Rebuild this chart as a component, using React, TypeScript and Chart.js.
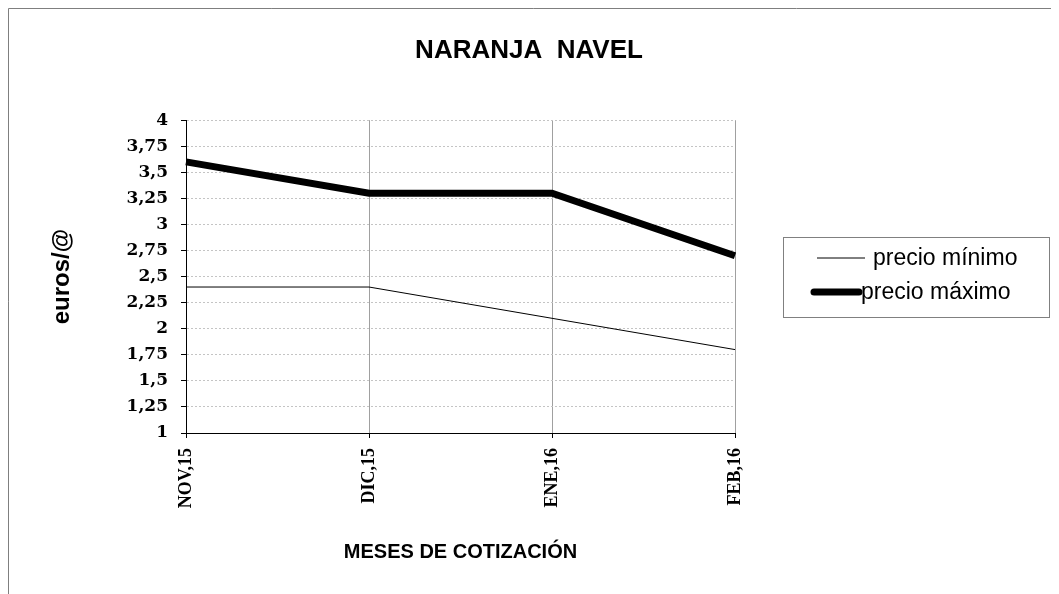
import { useEffect, useRef } from 'react';
import { Chart, registerables } from 'chart.js';

Chart.register(...registerables);

const chartTitle = 'NARANJA  NAVEL';
const xAxisTitle = 'MESES DE COTIZACIÓN';
const yAxisTitle = 'euros/@';
const categories = ['NOV,15', 'DIC,15', 'ENE,16', 'FEB,16'];
const seriesLabels = ['precio mínimo', 'precio máximo'];
const precioMinimo = [2.4, 2.4, 2.1, 1.8];
const precioMaximo = [3.6, 3.3, 3.3, 2.7];
const yTickValues = [1, 1.25, 1.5, 1.75, 2, 2.25, 2.5, 2.75, 3, 3.25, 3.5, 3.75, 4];
const yTickLabels = ['1', '1,25', '1,5', '1,75', '2', '2,25', '2,5', '2,75', '3', '3,25', '3,5', '3,75', '4'];

const frameBorder = {
  id: 'frameBorder',
  beforeDraw(chart: any) {
    const { ctx, width, height } = chart;
    ctx.save();
    ctx.fillStyle = '#ffffff';
    ctx.fillRect(0, 0, width, height);
    ctx.strokeStyle = '#7f7f7f';
    ctx.lineWidth = 1;
    ctx.beginPath();
    ctx.moveTo(0.5, height);
    ctx.lineTo(0.5, 0.5);
    ctx.lineTo(width, 0.5);
    ctx.stroke();
    ctx.restore();
  },
};

const boxLegend = {
  id: 'boxLegend',
  afterDraw(chart: any, _args: any, opts: any) {
    const ctx = chart.ctx;
    ctx.save();
    ctx.strokeStyle = '#808080';
    ctx.lineWidth = 1;
    ctx.strokeRect(opts.x + 0.5, opts.y + 0.5, opts.w, opts.h);
    chart.data.datasets.forEach((ds: any, i: number) => {
      const row = opts.rows[i];
      const cy = opts.y + row.cy;
      ctx.beginPath();
      ctx.lineWidth = ds.borderWidth;
      ctx.strokeStyle = ds.borderColor;
      ctx.lineCap = ds.borderWidth > 2 ? 'round' : 'butt';
      ctx.moveTo(row.x1, cy);
      ctx.lineTo(row.x2, cy);
      ctx.stroke();
      ctx.fillStyle = '#000000';
      ctx.font = '23px "Liberation Sans", Arial, sans-serif';
      ctx.textBaseline = 'middle';
      ctx.textAlign = 'left';
      ctx.fillText(ds.label, row.tx, cy + 1);
    });
    ctx.restore();
  },
};

export default function App() {
  const ref = useRef<HTMLCanvasElement | null>(null);

  useEffect(() => {
    document.body.style.overflow = 'hidden';
    if (!ref.current) return;
    const chart = new Chart(ref.current, {
      type: 'line',
      data: {
        labels: categories,
        datasets: [
          {
            label: seriesLabels[0],
            data: precioMinimo,
            borderColor: '#000000',
            backgroundColor: '#000000',
            borderWidth: 1,
            pointRadius: 0,
            tension: 0,
            fill: false,
          },
          {
            label: seriesLabels[1],
            data: precioMaximo,
            borderColor: '#000000',
            backgroundColor: '#000000',
            borderWidth: 7,
            pointRadius: 0,
            tension: 0,
            fill: false,
          },
        ],
      },
      options: {
        responsive: false,
        animation: false,
        layout: { padding: { left: 0, right: 9, top: 0, bottom: 0 } },
        plugins: {
          legend: { display: false },
          tooltip: { enabled: false },
          title: {
            display: true,
            text: chartTitle,
            color: '#000000',
            font: { family: '"Liberation Sans", Arial, sans-serif', size: 26, weight: 'bold', lineHeight: 1.2 },
            padding: { top: 27, bottom: 54 },
          },
          boxLegend: {
            x: 775,
            y: 229,
            w: 266,
            h: 80,
            rows: [
              { cy: 21, x1: 809, x2: 857, tx: 865 },
              { cy: 55, x1: 806, x2: 851, tx: 853 },
            ],
          },
        } as any,
        scales: {
          x: {
            type: 'category',
            offset: false,
            afterFit: (scale: any) => {
              scale.height = 161;
            },
            grid: {
              color: '#a0a0a0',
              lineWidth: 1,
              tickColor: '#000000',
              tickLength: 5,
              drawTicks: true,
            },
            border: { display: true, color: '#000000', width: 1 },
            ticks: {
              autoSkip: false,
              minRotation: 90,
              maxRotation: 90,
              padding: 10,
              color: '#000000',
              font: { family: '"Liberation Serif", "Times New Roman", serif', size: 18, weight: 'bold' },
            },
            title: {
              display: true,
              text: xAxisTitle,
              color: '#000000',
              font: { family: '"Liberation Sans", Arial, sans-serif', size: 20, weight: 'bold', lineHeight: 1.2 },
              padding: { top: 0, bottom: 30 },
            },
          },
          y: {
            type: 'linear',
            position: 'left',
            min: 1,
            max: 4,
            afterFit: (scale: any) => {
              scale.width = 178;
            },
            afterBuildTicks: (scale: any) => {
              scale.ticks = yTickValues.map((v) => ({ value: v }));
            },
            grid: {
              color: (c: any) => (c.tick && c.tick.value === 1 ? 'rgba(0,0,0,0)' : '#c4c4c4'),
              lineWidth: 1,
              tickColor: '#000000',
              tickLength: 5,
              drawTicks: true,
            },
            border: { display: true, color: '#000000', width: 1, dash: [2, 2] },
            ticks: {
              padding: 13,
              color: '#000000',
              font: { family: '"DejaVu Serif", serif', size: 17, weight: 'bold' },
              callback: (_v: any, i: number) => yTickLabels[i],
            },
            title: {
              display: true,
              text: yAxisTitle,
              color: '#000000',
              font: { family: '"Liberation Sans", Arial, sans-serif', size: 24, weight: 'bold', lineHeight: 1.2 },
              padding: { top: 40, bottom: 0 },
            },
          },
          spacer: {
            type: 'linear',
            position: 'right',
            display: true,
            afterFit: (scale: any) => {
              scale.width = 315;
            },
            grid: { display: false, drawOnChartArea: false, drawTicks: false },
            border: { display: false },
            ticks: { display: false },
          },
        } as any,
      },
      plugins: [frameBorder, boxLegend],
    });
    return () => chart.destroy();
  }, []);

  return (
    <canvas
      ref={ref}
      width={1051}
      height={586}
      style={{ display: 'block', width: '1051px', height: '586px' }}
    />
  );
}
